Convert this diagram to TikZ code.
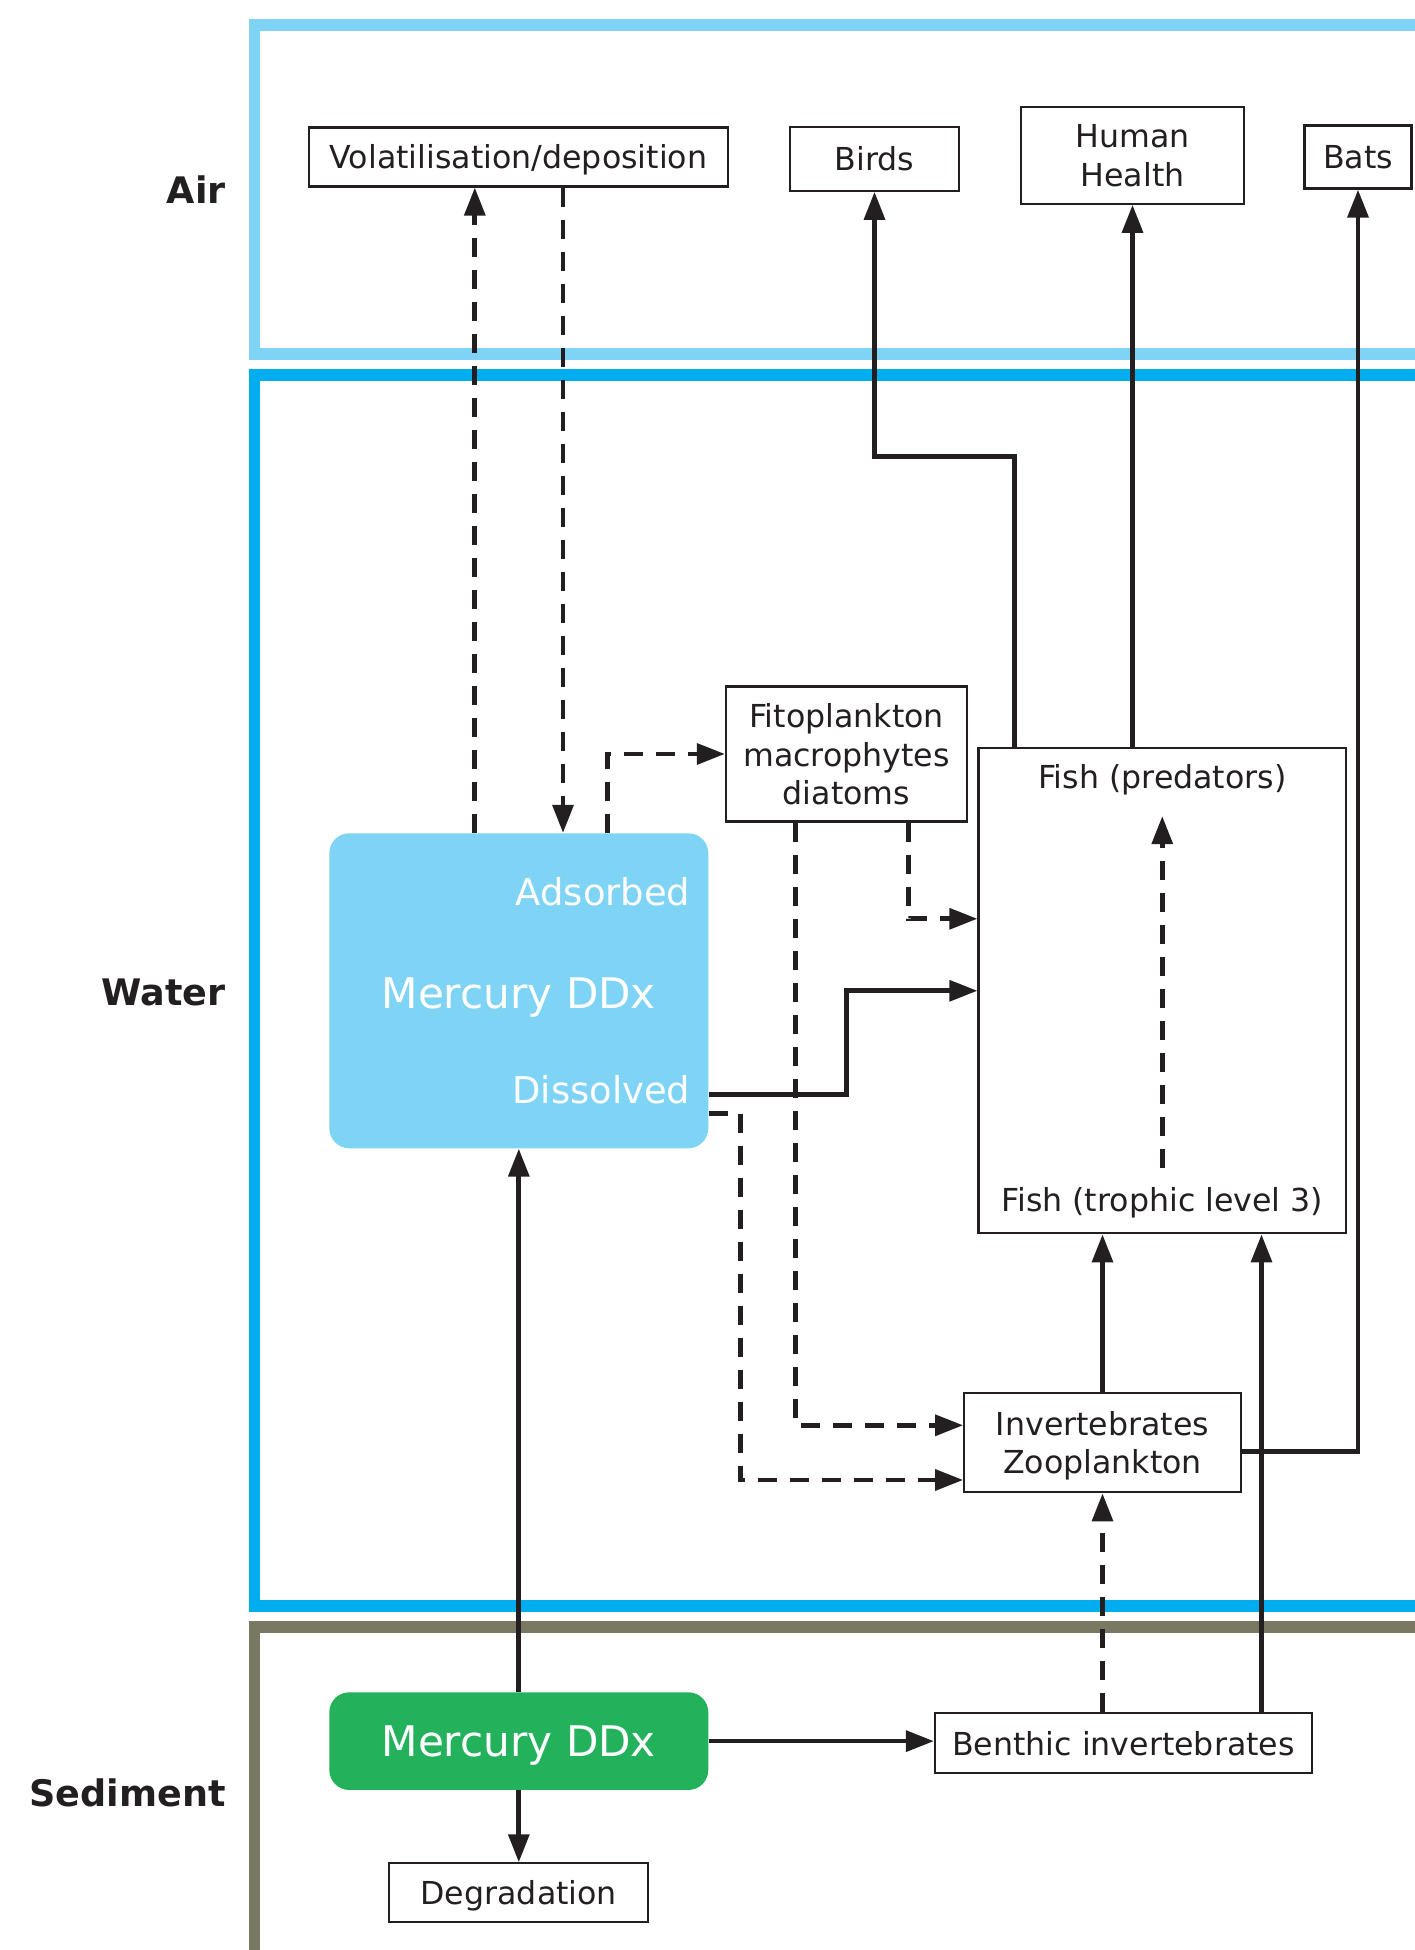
\documentclass[tikz,border=0pt]{standalone}
\usepackage{fontspec}
\setmainfont{DejaVu Sans}
\usetikzlibrary{arrows.meta, calc}
\definecolor{airblue}{HTML}{7FD3F5}
\definecolor{waterblue}{HTML}{00AEEF}
\definecolor{sedgrey}{HTML}{7A7862}
\definecolor{hggreen}{HTML}{23B15C}
\definecolor{ink}{HTML}{231F20}
\tikzset{
    zone/.style={line width=6.3pt, line join=miter},
    zonelbl/.style={anchor=base east, inner sep=0pt, text=ink,
        font=\bfseries\fontsize{20.8pt}{25pt}\selectfont},
    box/.style={rectangle, draw=ink, line width=1.25pt, fill=white, inner sep=0pt,
        align=center, text=ink, text depth=0pt, font=\fontsize{18pt}{21.8pt}\selectfont},
    pool/.style={rectangle, rounded corners=0.4cm, inner sep=0pt, text=white,
        text depth=0pt, minimum width=7.58cm, font=\fontsize{24pt}{28pt}\selectfont},
    poollbl/.style={anchor=base east, inner sep=0pt, text=white,
        font=\fontsize{21pt}{25pt}\selectfont},
    fishlbl/.style={anchor=base, inner sep=0pt, text=ink, text depth=0pt,
        font=\fontsize{18pt}{21.8pt}\selectfont},
    arr/.style={-{Triangle[length=0.56cm, width=0.41cm]}, line width=2.67pt, draw=ink},
    dasharr/.style={arr, dash pattern=on 0.38cm off 0.26cm}
}

\begin{document}
\begin{tikzpicture}
%% LAYOUT (cm, origin bottom left):
%% Air   band y=31.9..38.5 : vol(10.4)  birds(17.5)  human(22.7)  bats(27.2)
%% Water band y=6.9..31.5  : hgw(10.4,19.2)  fito(16.9,23.9)  fish(23.2,19.2)  invert(22.1,10.1)
%% Sed.  band y<6.5        : hgs(10.4,4.2)   benthic(22.5,4.1)  degr(10.4,1.1)
\useasboundingbox (0,0) rectangle (28.28,39);

%% ── ZONES ───────────────────────────────────────────────────────
\draw[zone, draw=airblue]   (28.5,38.5) -- (5.094,38.5) -- (5.094,31.92) -- (28.5,31.92);
\draw[zone, draw=waterblue] (28.5,31.5) -- (5.094,31.5) -- (5.094,6.88)  -- (28.5,6.88);
\draw[zone, draw=sedgrey]   (28.5,6.46) -- (5.094,6.46) -- (5.094,-0.5);

\node[zonelbl] (airlbl)   at (4.52,34.93) {Air};
\node[zonelbl] (waterlbl) at (4.52,18.88) {Water};
\node[zonelbl] (sedlbl)   at (4.52,2.866) {Sediment};

%% ── NODES ───────────────────────────────────────────────────────
\node[box, minimum width=8.38cm, minimum height=1.18cm] (vol)   at (10.37,35.86) {Volatilisation/deposition};
\node[box, minimum width=3.38cm, minimum height=1.27cm] (birds) at (17.49,35.82) {Birds};
\node[box, minimum width=4.46cm, minimum height=1.93cm] (human) at (22.65,35.89) {Human\\Health};
\node[box, minimum width=2.14cm, minimum height=1.26cm] (bats)  at (27.16,35.86) {Bats};

\node[box, minimum width=4.82cm, minimum height=2.70cm] (fito)   at (16.93,23.92) {Fitoplankton\\macrophytes\\diatoms};
\node[box, minimum width=7.35cm, minimum height=9.70cm] (fish)   at (23.245,19.184) {};
\node[box, minimum width=5.53cm, minimum height=1.98cm] (invert) at (22.05,10.144) {Invertebrates\\Zooplankton};

\node[box, minimum width=7.54cm, minimum height=1.19cm] (benthic) at (22.47,4.14)   {Benthic invertebrates};
\node[box, minimum width=5.18cm, minimum height=1.17cm] (degr)    at (10.376,1.147) {Degradation};

\node[pool, fill=airblue, minimum height=6.30cm, text height=0.728cm] (hgw) at (10.376,19.184) {Mercury DDx};
\node[pool, fill=hggreen, minimum height=1.954cm, text height=0.622cm] (hgs) at (10.376,4.177) {Mercury DDx};

\node[poollbl] (ads)  at (13.814,20.886) {Adsorbed};
\node[poollbl] (diss) at (13.814,16.92)  {Dissolved};

\node[fishlbl] (fishtop) at (23.245,23.234) {Fish (predators)};
\node[fishlbl] (fishlow) at (23.245,14.766) {Fish (trophic level 3)};

%% ── AIR EXCHANGE ────────────────────────────────────────────────
\draw[dasharr] ([xshift=-0.88cm]hgw.north) -- ([xshift=-0.88cm]hgw.north |- vol.south);
\draw[dasharr] ([xshift=0.89cm]vol.south) -- ([xshift=0.89cm]vol.south |- hgw.north);

%% ── WATER COLUMN ────────────────────────────────────────────────
\draw[dasharr] ([xshift=1.77cm]hgw.north) |- (fito.west);
\draw[arr] ([yshift=-2.08cm]hgw.east) -- ++(2.75,0) |- (fish.west);
\draw[dasharr] ([yshift=-2.45cm]hgw.east) -- ++(0.634,0) |- ([yshift=-0.744cm]invert.west);

\draw[dasharr] ([xshift=1.24cm]fito.south) |- ([yshift=1.44cm]fish.west);
\draw[dasharr] ([xshift=-1.02cm]fito.south) |- ([yshift=0.35cm]invert.west);

%% fish level 3 -> predators, inside the fish box
\draw[dasharr] ([yshift=0.39cm]fishlow.north) -- ([yshift=-0.55cm]fishtop.south);

\draw[arr] (invert.north) -- (invert.north |- fish.south);

%% ── TO THE AIR ──────────────────────────────────────────────────
\draw[arr] ([xshift=-2.95cm]fish.north) -- ++(0,5.81) -| (birds.south);
\draw[arr] (fish.north -| human.south) -- (human.south);
\draw[arr] ([yshift=-0.18cm]invert.east) -| (bats.south);

%% ── SEDIMENT ────────────────────────────────────────────────────
\draw[arr] (hgs.north) -- (hgw.south);
\draw[arr] (hgs.east) -- (hgs.east -| benthic.west);
\draw[arr] (hgs.south) -- (degr.north);

\draw[dasharr] (benthic.north -| invert.south) -- (invert.south);
\draw[arr] ([xshift=2.76cm]benthic.north) -- ([xshift=2.76cm]benthic.north |- fish.south);

\end{tikzpicture}
\end{document}
